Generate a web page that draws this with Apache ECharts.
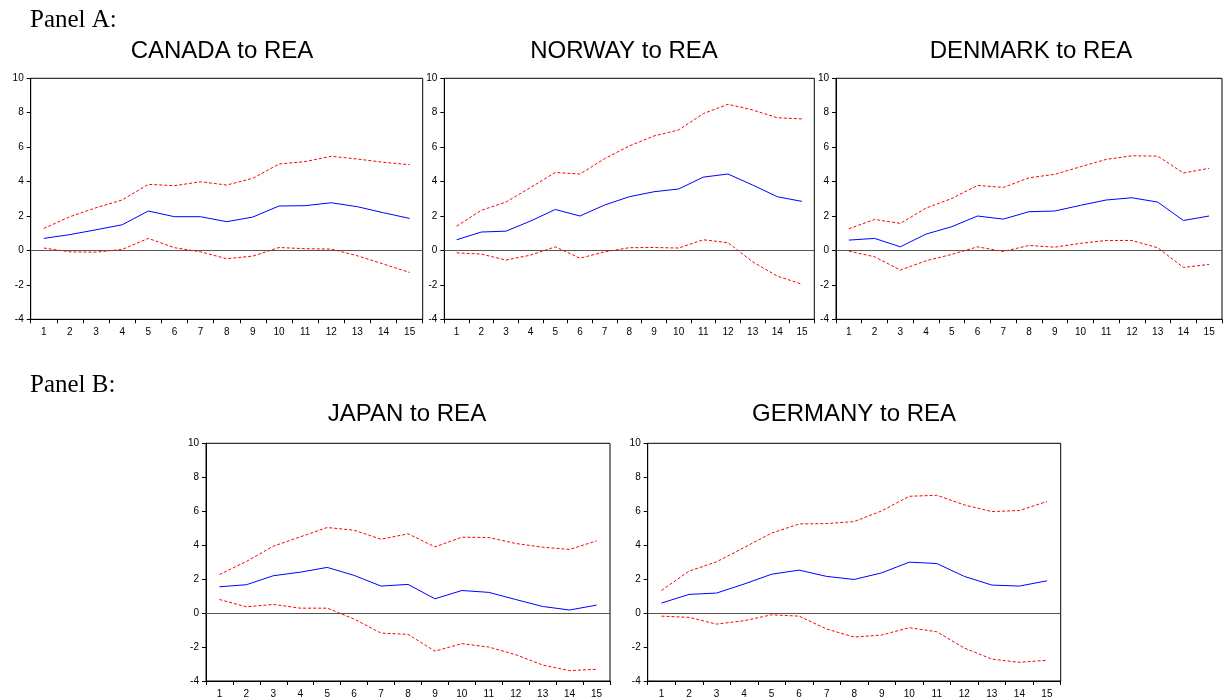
<!DOCTYPE html>
<html>
<head>
<meta charset="utf-8">
<title>Impulse responses to REA</title>
<script src="https://cdn.jsdelivr.net/npm/echarts@6/dist/echarts.min.js"></script>
<style>
  html, body { margin: 0; padding: 0; background: #ffffff; }
  #chart { width: 1225px; height: 700px; }
</style>
</head>
<body>
<div id="chart"></div>
<script>
// Horizon (periods after the shock)
const periods = ['1','2','3','4','5','6','7','8','9','10','11','12','13','14','15'];
const yTicks = { min: -4, max: 10, step: 2 };

// Canada
const canadaResp  = [0.70, 0.92, 1.20, 1.49, 2.29, 1.96, 1.96, 1.67, 1.94, 2.58, 2.60, 2.77, 2.54, 2.19, 1.86];
const canadaUpper = [1.28, 1.96, 2.48, 2.93, 3.84, 3.76, 3.99, 3.80, 4.19, 5.02, 5.16, 5.47, 5.31, 5.12, 4.98];
const canadaLower = [0.14, -0.08, -0.10, 0.06, 0.70, 0.16, -0.08, -0.48, -0.33, 0.17, 0.10, 0.08, -0.31, -0.79, -1.28];

// Norway
const norwayResp  = [0.62, 1.07, 1.12, 1.71, 2.38, 2.00, 2.64, 3.12, 3.41, 3.57, 4.26, 4.44, 3.80, 3.12, 2.85];
const norwayUpper = [1.41, 2.33, 2.81, 3.66, 4.53, 4.44, 5.33, 6.07, 6.65, 7.00, 7.95, 8.49, 8.16, 7.71, 7.64];
const norwayLower = [-0.14, -0.21, -0.56, -0.27, 0.21, -0.45, -0.08, 0.16, 0.17, 0.14, 0.62, 0.45, -0.66, -1.49, -1.96];

// Denmark
const denmarkResp  = [0.60, 0.70, 0.21, 0.95, 1.38, 2.00, 1.82, 2.25, 2.29, 2.62, 2.93, 3.06, 2.81, 1.74, 2.00];
const denmarkUpper = [1.26, 1.80, 1.57, 2.46, 3.02, 3.78, 3.66, 4.22, 4.42, 4.86, 5.29, 5.50, 5.48, 4.50, 4.77];
const denmarkLower = [-0.04, -0.37, -1.14, -0.60, -0.23, 0.21, -0.06, 0.29, 0.19, 0.41, 0.58, 0.58, 0.16, -0.99, -0.81];

// Japan
const japanResp  = [1.55, 1.67, 2.20, 2.41, 2.69, 2.22, 1.59, 1.69, 0.84, 1.33, 1.22, 0.80, 0.39, 0.18, 0.47];
const japanUpper = [2.27, 3.04, 3.94, 4.49, 5.04, 4.88, 4.35, 4.67, 3.90, 4.47, 4.45, 4.10, 3.88, 3.75, 4.25];
const japanLower = [0.80, 0.37, 0.51, 0.29, 0.29, -0.35, -1.18, -1.25, -2.24, -1.80, -2.00, -2.45, -3.06, -3.39, -3.31];

// Germany
const germanyResp  = [0.59, 1.10, 1.18, 1.71, 2.29, 2.53, 2.16, 1.98, 2.37, 3.00, 2.92, 2.16, 1.65, 1.59, 1.90];
const germanyUpper = [1.33, 2.47, 3.02, 3.86, 4.71, 5.25, 5.27, 5.39, 6.02, 6.88, 6.94, 6.37, 5.98, 6.04, 6.57];
const germanyLower = [-0.18, -0.25, -0.65, -0.45, -0.10, -0.18, -0.94, -1.41, -1.29, -0.86, -1.10, -2.06, -2.71, -2.90, -2.78];

const panels = [
  { title: 'CANADA to REA',  resp: canadaResp,  upper: canadaUpper,  lower: canadaLower,  box: [30.7, 78.3, 392, 241],     titleX: 222,  titleY: 51 },
  { title: 'NORWAY to REA',  resp: norwayResp,  upper: norwayUpper,  lower: norwayLower,  box: [444.3, 78.3, 370, 241],    titleX: 624,  titleY: 51 },
  { title: 'DENMARK to REA', resp: denmarkResp, upper: denmarkUpper, lower: denmarkLower, box: [836, 78.3, 386, 241],      titleX: 1031, titleY: 51 },
  { title: 'JAPAN to REA',   resp: japanResp,   upper: japanUpper,   lower: japanLower,   box: [206, 443.3, 404, 237.7],   titleX: 407,  titleY: 414 },
  { title: 'GERMANY to REA', resp: germanyResp, upper: germanyUpper, lower: germanyLower, box: [647.7, 443.3, 413, 237.7], titleX: 854,  titleY: 414 }
];

const SANS = '"Liberation Sans", Arial, sans-serif';
const SERIF = '"Liberation Serif", "Times New Roman", serif';

const grid = [], xAxis = [], yAxis = [], series = [], graphic = [];

panels.forEach((p, i) => {
  const [l, t, w, h] = p.box;
  grid.push({ left: l, top: t, width: w, height: h, show: true, borderColor: '#000', borderWidth: 1, backgroundColor: 'transparent' });

  xAxis.push({
    type: 'category', gridIndex: i, data: periods, boundaryGap: true,
    axisLine: { show: true, onZero: false, lineStyle: { color: '#000', width: 1 } },
    axisTick: { show: true, inside: false, length: 4, lineStyle: { color: '#000' } },
    axisLabel: { color: '#000', fontSize: 10, fontFamily: SANS, margin: 8, interval: 0 },
    splitLine: { show: false }
  });

  yAxis.push({
    type: 'value', gridIndex: i, min: yTicks.min, max: yTicks.max, interval: yTicks.step,
    axisLine: { show: true, lineStyle: { color: '#000', width: 1 } },
    axisTick: { show: true, inside: false, length: 4, lineStyle: { color: '#000' } },
    axisLabel: { color: '#000', fontSize: 10, fontFamily: SANS, margin: 7 },
    splitLine: { show: false }
  });

  const dashed = { color: '#ff0000', width: 1, type: [3, 2] };
  series.push({
    type: 'line', xAxisIndex: i, yAxisIndex: i, data: p.upper, symbol: 'none',
    lineStyle: dashed, silent: true, z: 3
  });
  series.push({
    type: 'line', xAxisIndex: i, yAxisIndex: i, data: p.lower, symbol: 'none',
    lineStyle: dashed, silent: true, z: 3
  });
  series.push({
    type: 'line', xAxisIndex: i, yAxisIndex: i, data: p.resp, symbol: 'none',
    lineStyle: { color: '#0000ff', width: 1 }, silent: true, z: 4,
    markLine: {
      silent: true, symbol: 'none', animation: false,
      label: { show: false },
      lineStyle: { color: '#555555', width: 1, type: 'solid' },
      data: [{ yAxis: 0 }],
      z: 2
    }
  });

  graphic.push({
    type: 'text', x: p.titleX, y: p.titleY,
    style: { text: p.title, fontSize: 24, fontFamily: SANS, fill: '#000', textAlign: 'center', textVerticalAlign: 'middle' }
  });
});

graphic.push({
  type: 'text', x: 30, y: 20,
  style: { text: 'Panel A:', fontSize: 25, fontFamily: SERIF, fill: '#000', textAlign: 'left', textVerticalAlign: 'middle' }
});
graphic.push({
  type: 'text', x: 30, y: 385,
  style: { text: 'Panel B:', fontSize: 25, fontFamily: SERIF, fill: '#000', textAlign: 'left', textVerticalAlign: 'middle' }
});

const chart = echarts.init(document.getElementById('chart'), null, { renderer: 'canvas' });
chart.setOption({
  animation: false,
  backgroundColor: '#ffffff',
  grid, xAxis, yAxis, series, graphic
});
</script>
</body>
</html>
